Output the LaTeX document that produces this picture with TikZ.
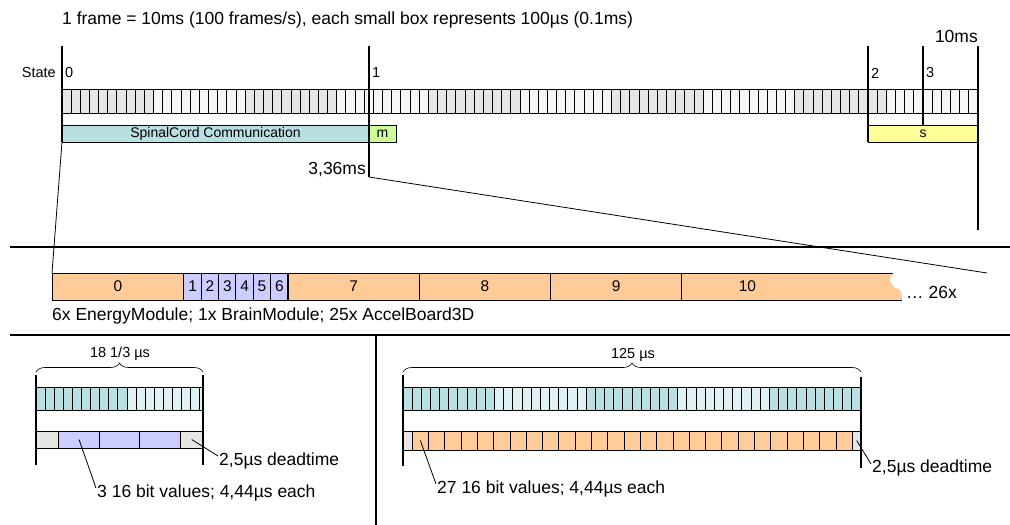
\documentclass[tikz,border=0pt]{standalone}
\usepackage{fontspec}
\setmainfont{Liberation Sans}
\usepackage{tikz}
\usetikzlibrary{decorations.pathreplacing, positioning}

\definecolor{tickdark}{HTML}{E6E6E6}
\definecolor{ticklight}{HTML}{F6F6F6}
\definecolor{cyandark}{HTML}{B8DFE2}
\definecolor{cyanlight}{HTML}{DFF1F3}
\definecolor{orangeseg}{HTML}{FFCC99}
\definecolor{modpurple}{HTML}{CCCCFF}
\definecolor{mastergreen}{HTML}{CCFF99}
\definecolor{slaveyellow}{HTML}{FFFF99}
\definecolor{deadgray}{HTML}{E6E6E6}

\tikzstyle{txt} = [inner sep=1pt, font=\fontsize{14.5}{17}\selectfont]
\tikzstyle{bigtxt} = [inner sep=1pt, font=\fontsize{17.5}{20}\selectfont]
\tikzstyle{tick} = [draw, line width=1pt]
\tikzstyle{marker} = [line width=1.4pt]
\tikzstyle{leader} = [line width=0.8pt]
\tikzstyle{sep} = [line width=1.6pt]
\tikzstyle{phase} = [draw, line width=1pt, minimum height=17, inner sep=0pt, outer sep=0pt, font=\fontsize{14}{16}\selectfont]
\tikzstyle{seg} = [draw, line width=1pt, fill=orangeseg, minimum height=27, inner sep=0pt, outer sep=0pt, font=\fontsize{15.5}{17}\selectfont]
\tikzstyle{slot} = [draw, line width=1pt, inner sep=0pt, outer sep=0pt]
\tikzstyle{bracket} = [decorate, decoration={brace, amplitude=9pt}, line width=0.6pt]

\begin{document}
\begin{tikzpicture}[x=1pt, y=-1pt]
	\useasboundingbox (0,0) rectangle (1010,525);

	\node (Title) [bigtxt, anchor=west] at (61,20) {1 frame = 10ms (100 frames/s), each small box represents 100µs (0.1ms)};

	% one frame, 100 small boxes
	\foreach \i in {0,...,99} {
		\pgfmathtruncatemacro{\grp}{floor(\i/10)}
		\ifodd\grp \def\boxcol{ticklight}\else \def\boxcol{tickdark}\fi
		\draw [tick, fill=\boxcol] (62+\i*9.16, 89) rectangle ++(9.16, 24);
	}

	\node (State) [txt, anchor=east] at (57,73) {State};
	\node (St0) [txt, anchor=west] at (64,73) {0};
	\node (St1) [txt, anchor=west] at (371,73) {1};
	\node (St2) [txt, anchor=west] at (870,73) {2};
	\node (St3) [txt, anchor=west] at (925,73) {3};
	\node (End) [bigtxt, anchor=east] at (979,36) {10ms};

	\node (Spinal) [phase, fill=cyandark, minimum width=307] at (215.5,133.5) {SpinalCord Communication};
	\node (Master) [phase, fill=mastergreen, minimum width=27, right=0pt of Spinal] {m};
	\node (Slave) [phase, fill=slaveyellow, minimum width=110] at (923,133.5) {s};

	\draw [marker] (62,46) -- (62,142);
	\draw [marker] (369,46) -- (369,177);
	\draw [marker] (868,46) -- (868,142);
	\draw [marker] (923,46) -- (923,125);
	\draw [marker] (978,46) -- (978,230);

	\node (Split) [bigtxt, anchor=east] at (367,170) {3,36ms};
	\coordinate (Cut) at (369,177);
	\coordinate (ZoomEnd) at (987,273);

	\draw [sep] (10,247) -- (1010,247);

	% expanded communication phase
	\node (Seg0) [seg, minimum width=132] at (118,286.5) {0};
	\foreach \n in {1,...,6}
		\node (Mod\n) [seg, fill=modpurple, minimum width=17.33] at (175.33+\n*17.33, 286.5) {\n};
	\foreach \n [count=\k from 0] in {7,...,10}
		\node (Seg\n) [seg, minimum width=131.25] at (353.625+\k*131.25, 286.5) {\n};
	\fill [orangeseg] (813,273) -- (893,273) .. controls (887,280) and (892,288) .. (899,289) .. controls (902,292) and (902,296) .. (902,300) -- (813,300) -- cycle;
	\draw [line width=1pt] (813,273) -- (893,273);
	\draw [line width=1pt] (813,300) -- (902,300);
	\node (More) [bigtxt, anchor=west] at (905,292) {… 26x};

	\draw [leader] (Spinal.south west) -- (Seg0.north west);
	\draw [leader] (Cut) -- (ZoomEnd);

	\node (Summary) [bigtxt, anchor=west] at (51,316) {6x EnergyModule; 1x BrainModule; 25x AccelBoard3D};

	\draw [sep] (10,335) -- (1010,335);
	\draw [sep] (376,335) -- (376,525);

	% energy module slot
	\foreach \i in {0,...,18} {
		\pgfmathsetmacro{\xa}{36+\i*9.11}
		\pgfmathsetmacro{\xb}{min(\xa+9.11,203)}
		\ifnum\i<10 \def\boxcol{cyandark}\else \def\boxcol{cyanlight}\fi
		\draw [tick, fill=\boxcol] (\xa,387) rectangle (\xb,410);
	}
	\node (DeadL1) [slot, fill=deadgray, minimum width=22.8, minimum height=17, anchor=west] at (36,439.5) {};
	\node (ValL1) [slot, fill=modpurple, minimum width=40.5, minimum height=17, right=0pt of DeadL1] {};
	\node (ValL2) [slot, fill=modpurple, minimum width=40.5, minimum height=17, right=0pt of ValL1] {};
	\node (ValL3) [slot, fill=modpurple, minimum width=40.5, minimum height=17, right=0pt of ValL2] {};
	\node (DeadL2) [slot, fill=deadgray, minimum width=22.8, minimum height=17, right=0pt of ValL3] {};

	\draw [marker] (36,375) -- (36,465);
	\draw [marker] (203,375) -- (203,465);
	\draw [bracket] (36,372) -- (203,372);
	\node (SpanL) [txt] at (120,354) {18 1/3 µs};

	\node (DeadTextL) [bigtxt, anchor=west] at (218,461) {2,5µs deadtime};
	\node (ValTextL) [bigtxt, anchor=west] at (96,493) {3 16 bit values; 4,44µs each};
	\draw [leader] (DeadL2.center) -- ([yshift=5pt]DeadTextL.west);
	\draw [leader] (ValL1.center) -- ([yshift=5pt]ValTextL.west);

	% accel board slot
	\foreach \i in {0,...,49} {
		\pgfmathtruncatemacro{\grp}{floor(\i/10)}
		\ifodd\grp \def\boxcol{cyanlight}\else \def\boxcol{cyandark}\fi
		\draw [tick, fill=\boxcol] (403+\i*9.16, 387) rectangle ++(9.16, 23);
	}
	\node (DeadR1) [slot, fill=deadgray, minimum width=9.2, minimum height=19, anchor=west] at (403,440.5) {};
	\foreach \i in {0,...,26}
		\node (ValR\i) [slot, fill=orangeseg, minimum width=16.3, minimum height=19] at (420.35+\i*16.3, 440.5) {};
	\node (DeadR2) [slot, fill=deadgray, minimum width=8.7, minimum height=19, anchor=west] at (852.3,440.5) {};

	\draw [marker] (403,375) -- (403,466);
	\draw [marker] (861,377) -- (861,468);
	\draw [bracket] (403,372) -- (861,372);
	\node (SpanR) [txt] at (633,355) {125 µs};

	\node (ValTextR) [bigtxt, anchor=west] at (436,489) {27 16 bit values; 4,44µs each};
	\node (DeadTextR) [bigtxt, anchor=west] at (871,468) {2,5µs deadtime};
	\draw [leader] (ValR0.center) -- ([yshift=5pt]ValTextR.west);
	\draw [leader] (DeadR2.center) -- ([yshift=4pt]DeadTextR.west);
\end{tikzpicture}
\end{document}
